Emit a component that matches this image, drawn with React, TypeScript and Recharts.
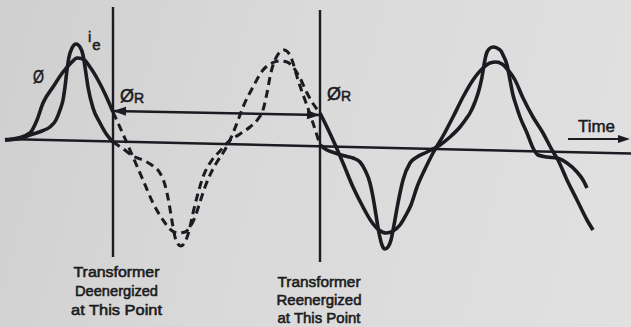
import React from 'react';
import { LineChart, Line, XAxis, YAxis, ReferenceLine, ReferenceDot } from 'recharts';

// Switching instants on the time base
const T_OFF = 113;
const T_ON = 320;

// Samples as [time, value]; flux Ø and exciting current ie share one vertical scale
const fluxBefore = [
  [5, 5], [18, 7], [30, 12], [37, 25], [43, 42], [53, 58], [63, 73], [71, 82], [77, 87],
  [83, 86], [90, 78], [98, 65], [106, 49], [113, 33],
];
const fluxPrevented = [
  [113, 33], [118, 22], [123, 11], [133, -12], [143, -35], [153, -58], [163, -75], [171, -85],
  [178, -88], [185, -87], [190, -82], [195, -72], [200, -57], [205, -42], [210, -30], [217, -17],
  [223, -8], [230, 5], [237, 22], [243, 38], [253, 58], [263, 75], [272, 82], [280, 84],
  [287, 83], [293, 78], [300, 67], [307, 52], [314, 40], [320, 32],
];
const fluxAfter = [
  [320, 32], [325, 22], [333, 5], [343, -18], [353, -42], [363, -62], [371, -76], [379, -85],
  [386, -88], [393, -86], [400, -80], [406, -70], [411, -60], [417, -42], [425, -24], [433, -8],
  [443, 9], [453, 28], [463, 48], [473, 65], [483, 77], [490, 82], [496, 83], [502, 81],
  [508, 75], [515, 65], [523, 47], [533, 28], [543, 12], [552, -5], [558, -15], [567, -35],
  [577, -55], [587, -75], [593, -85],
];

const currentBefore = [
  [5, 5], [18, 6], [30, 10], [42, 14], [50, 18], [56, 25], [60, 35], [63, 45], [65, 58],
  [67, 75], [69, 88], [72, 97], [76, 101], [80, 98], [83, 90], [85, 78], [88, 58], [93, 37],
  [100, 22], [107, 10], [113, 3],
];
const currentPrevented = [
  [113, 3], [122, -3], [133, -11], [145, -16], [153, -21], [160, -28], [165, -40], [169, -58],
  [172, -76], [175, -92], [178, -99], [181, -101], [185, -97], [189, -86], [193, -68], [197, -52],
  [203, -32], [212, -15], [220, -6], [228, 3], [240, 11], [250, 18], [258, 26], [263, 35],
  [267, 52], [270, 68], [273, 80], [277, 89], [284, 95], [290, 90], [293, 82], [298, 65],
  [305, 45], [312, 25], [320, 0],
];
const currentAfter = [
  [320, 0], [327, -5], [335, -8], [345, -11], [353, -13], [360, -17], [365, -25], [370, -38],
  [373, -52], [376, -70], [379, -88], [382, -100], [385, -104], [388, -102], [391, -95],
  [394, -80], [398, -58], [403, -35], [410, -18], [417, -12], [427, -7], [440, 0], [450, 8],
  [460, 18], [466, 26], [470, 32], [475, 43], [479, 55], [482, 68], [484, 80], [486, 90],
  [489, 96], [493, 98], [497, 97], [501, 94], [504, 88], [507, 80], [510, 65], [513, 50],
  [516, 40], [520, 28], [527, 12], [533, -3], [538, -10], [547, -12], [557, -13], [567, -18],
  [577, -27], [583, -35], [587, -43],
];

const rows = (pairs: number[][]) => pairs.map(([t, v]) => ({ t, v }));

const INK = '#1b1b21';
const FONT = '"Liberation Sans", Arial, sans-serif';
const W = 631;
const H = 327;

// triangle for an arrow tip at (x, y) pointing along (dx, dy)
function tip(x: number, y: number, dx: number, dy: number, len = 13, half = 4.5) {
  const d = Math.hypot(dx, dy) || 1;
  const ux = dx / d;
  const uy = dy / d;
  const bx = x - ux * len;
  const by = y - uy * len;
  return `${x},${y} ${bx - uy * half},${by + ux * half} ${bx + uy * half},${by - ux * half}`;
}

const DoubleArrow = (p: any) => (
  <g>
    <line x1={p.x1} y1={p.y1} x2={p.x2} y2={p.y2} stroke={INK} strokeWidth={2.5} />
    <polygon points={tip(p.x1, p.y1, p.x1 - p.x2, p.y1 - p.y2)} fill={INK} />
    <polygon points={tip(p.x2, p.y2, p.x2 - p.x1, p.y2 - p.y1)} fill={INK} />
  </g>
);

const SingleArrow = (p: any) => (
  <g>
    <line x1={p.x1} y1={p.y1} x2={p.x2 - 6} y2={p.y2} stroke={INK} strokeWidth={2.2} />
    <polygon points={tip(p.x2, p.y2, p.x2 - p.x1, p.y2 - p.y1, 12, 4)} fill={INK} />
  </g>
);

const at = (draw: (x: number, y: number) => React.ReactElement) => (p: any) => draw(p.cx, p.cy);

const textStyle = { fill: INK, fontFamily: FONT, stroke: INK, strokeWidth: 0.5 };

const Caption = (lines: { text: string; width: number; dy: number }[]) =>
  at((x, y) => (
    <g>
      {lines.map((l) => (
        <text
          key={l.text}
          x={x}
          y={y + l.dy}
          fontSize={15.5}
          textAnchor="middle"
          textLength={l.width}
          lengthAdjust="spacingAndGlyphs"
          {...textStyle}
          strokeWidth={0.6}
        >
          {l.text}
        </text>
      ))}
    </g>
  ));

export default function App() {
  const solid = {
    type: 'monotone' as const,
    dataKey: 'v',
    stroke: INK,
    strokeWidth: 3.6,
    dot: false,
    activeDot: false,
    isAnimationActive: false,
    strokeLinejoin: 'round' as const,
  };
  const dashed = { ...solid, strokeWidth: 3, strokeDasharray: '8 5' };

  return (
    <div
      style={{
        position: 'absolute',
        left: 0,
        top: 0,
        width: W,
        height: H,
        background: 'linear-gradient(105deg, #cfcfcf 0%, #d9d9d9 40%, #e1e1e1 100%)',
      }}
    >
      <LineChart width={W} height={H} margin={{ top: 0, right: 0, bottom: 0, left: 0 }}>
        <XAxis dataKey="t" type="number" domain={[0, W]} allowDataOverflow hide />
        <YAxis type="number" domain={[-182, 145]} allowDataOverflow hide />

        {/* time axis */}
        <ReferenceLine segment={[{ x: 5, y: 6 }, { x: 631, y: -8.5 }]} stroke={INK} strokeWidth={2.5} />
        {/* switching instants */}
        <ReferenceLine segment={[{ x: T_OFF, y: 138 }, { x: T_OFF, y: -112 }]} stroke={INK} strokeWidth={2.4} />
        <ReferenceLine segment={[{ x: T_ON, y: 135 }, { x: T_ON, y: -117 }]} stroke={INK} strokeWidth={2.4} />
        {/* residual flux held between the two instants */}
        <ReferenceLine segment={[{ x: T_OFF, y: 34 }, { x: T_ON, y: 30 }]} shape={DoubleArrow} />
        <ReferenceLine segment={[{ x: 568, y: 6 }, { x: 630, y: 6 }]} shape={SingleArrow} />

        <Line data={rows(fluxBefore)} {...solid} />
        <Line data={rows(currentBefore)} {...solid} />
        <Line data={rows(fluxPrevented)} {...dashed} />
        <Line data={rows(currentPrevented)} {...dashed} />
        <Line data={rows(fluxAfter)} {...solid} />
        <Line data={rows(currentAfter)} {...solid} />

        <ReferenceDot
          x={33}
          y={62}
          r={0}
          shape={at((x, y) => (
            <text x={x} y={y} fontSize={19} textLength={11} lengthAdjust="spacingAndGlyphs" {...textStyle}>
              Ø
            </text>
          ))}
        />
        <ReferenceDot
          x={88}
          y={103}
          r={0}
          shape={at((x, y) => (
            <text x={x} y={y} fontSize={15} {...textStyle}>
              i
              <tspan dx={1} dy={8}>e</tspan>
            </text>
          ))}
        />
        {[{ t: 120, v: 43 }, { t: 327, v: 45 }].map((p) => (
          <ReferenceDot
            key={p.t}
            x={p.t}
            y={p.v}
            r={0}
            shape={at((x, y) => (
              <text x={x} y={y} {...textStyle}>
                <tspan fontSize={18}>Ø</tspan>
                <tspan fontSize={14} dy={1}>R</tspan>
              </text>
            ))}
          />
        ))}
        <ReferenceDot
          x={578}
          y={13}
          r={0}
          shape={at((x, y) => (
            <text x={x} y={y} fontSize={17} textLength={37} lengthAdjust="spacingAndGlyphs" {...textStyle}>
              Time
            </text>
          ))}
        />
        <ReferenceDot
          x={116.5}
          y={-132}
          r={0}
          shape={Caption([
            { text: 'Transformer', width: 86, dy: 0 },
            { text: 'Deenergized', width: 83, dy: 19 },
            { text: 'at This Point', width: 91, dy: 38 },
          ])}
        />
        <ReferenceDot
          x={319}
          y={-142}
          r={0}
          shape={Caption([
            { text: 'Transformer', width: 83, dy: 0 },
            { text: 'Reenergized', width: 85, dy: 18 },
            { text: 'at This Point', width: 83, dy: 35.5 },
          ])}
        />
      </LineChart>
    </div>
  );
}
